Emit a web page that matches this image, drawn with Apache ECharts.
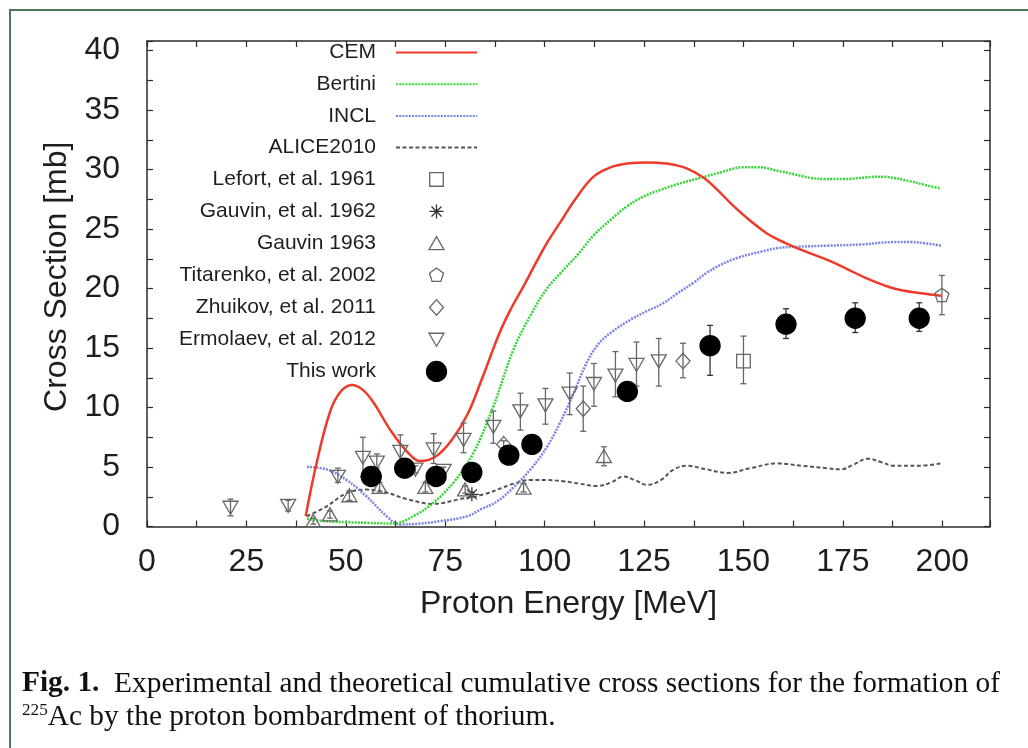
<!DOCTYPE html>
<html>
<head>
<meta charset="utf-8">
<script src="https://cdn.jsdelivr.net/npm/echarts@6/dist/echarts.min.js"></script>
<style>
html,body{margin:0;padding:0;background:#fff;}
#c{width:1028px;height:748px;}
</style>
</head>
<body>
<div id="c"></div>
<script>
// ---------------- DATA ----------------
const xTickLabels = [0, 25, 50, 75, 100, 125, 150, 175, 200];
const yTickLabels = [0, 5, 10, 15, 20, 25, 30, 35, 40];

const xTitle = 'Proton Energy [MeV]';
const yTitle = 'Cross Section [mb]';

const captionLabel = 'Fig. 1.';
const captionLine1 = 'Experimental and theoretical cumulative cross sections for the formation of';
const captionSup = '225';
const captionLine2 = 'Ac by the proton bombardment of thorium.';

// Theoretical curves
const cemE = [39.9, 42.7, 46.0, 48.6, 51.5, 54.2, 57.0, 61.2, 65.4, 68.7, 72.7, 76.7, 80.7, 84.0, 88.7, 91.7, 94.7, 98.2, 100.7, 104.0, 107.7, 112.3, 116.7, 120.7, 125.7, 130.7, 135.7, 140.0, 143.7, 147.6, 151.7, 156.0, 160.7, 165.7, 171.1, 175.7, 180.7, 187.9, 194.7, 199.7];
const cemV = [0.86, 5.4, 9.6, 11.3, 11.9, 11.5, 10.4, 8.1, 6.3, 5.5, 5.9, 7.3, 9.5, 12.2, 16.3, 18.4, 20.2, 22.4, 23.9, 25.6, 27.5, 29.4, 30.2, 30.5, 30.6, 30.5, 30.1, 29.3, 28.2, 26.9, 25.7, 24.6, 23.8, 23.1, 22.4, 21.7, 20.9, 20.0, 19.6, 19.4];

const bertiniE = [40.2, 44.7, 50.2, 55.7, 61.9, 67.0, 72.0, 77.1, 82.1, 87.1, 92.2, 96.7, 100.6, 104.0, 108.2, 112.4, 116.7, 120.7, 124.7, 129.2, 133.7, 139.2, 144.7, 150.1, 153.7, 158.5, 162.7, 166.9, 170.7, 175.3, 179.7, 183.7, 187.7, 192.1, 195.7, 199.7];
const bertiniV = [0.65, 0.45, 0.36, 0.3, 0.25, 0.87, 2.0, 3.7, 6.2, 10.1, 14.9, 17.9, 20.0, 21.3, 22.8, 24.5, 25.8, 26.9, 27.7, 28.3, 28.8, 29.3, 29.8, 30.2, 30.2, 29.9, 29.6, 29.3, 29.2, 29.2, 29.3, 29.4, 29.3, 29.0, 28.7, 28.4];

const inclE = [40.2, 45.2, 50.2, 55.3, 60.3, 63.7, 68.7, 73.7, 80.5, 84.0, 88.0, 92.2, 96.7, 100.6, 103.7, 107.3, 110.2, 113.2, 116.7, 121.7, 125.7, 130.0, 133.4, 137.5, 140.7, 144.3, 148.7, 154.4, 158.7, 162.7, 171.1, 179.5, 187.9, 192.1, 195.7, 199.7];
const inclV = [5.0, 4.8, 3.9, 2.5, 0.86, 0.17, 0.25, 0.45, 0.86, 1.45, 2.1, 3.3, 4.9, 6.7, 8.6, 11.2, 13.5, 15.2, 16.3, 17.4, 18.1, 18.8, 19.6, 20.5, 21.3, 22.0, 22.6, 23.1, 23.4, 23.5, 23.6, 23.7, 23.9, 23.9, 23.8, 23.6];

const aliceE = [40.2, 45.2, 50.2, 55.3, 59.7, 65.4, 72.0, 78.7, 84.7, 92.2, 96.4, 100.7, 104.7, 108.7, 113.2, 116.7, 119.9, 122.7, 125.8, 129.2, 132.5, 135.9, 140.7, 146.0, 151.7, 158.6, 164.7, 171.1, 174.5, 177.7, 181.2, 184.7, 187.9, 193.7, 199.7];
const aliceV = [0.86, 1.7, 2.8, 3.1, 2.9, 2.3, 1.9, 2.3, 2.7, 3.6, 3.9, 3.9, 3.8, 3.6, 3.4, 3.7, 4.2, 3.9, 3.5, 3.9, 4.8, 5.1, 4.8, 4.5, 4.9, 5.3, 5.1, 4.9, 4.8, 5.2, 5.7, 5.4, 5.1, 5.1, 5.3];

// Experimental data: energy, value, lower, upper
const lefortE = [150.0];
const lefortV = [13.9];
const lefortLo = [12.0];
const lefortHi = [16.0];

const gauvin62E = [81.7];
const gauvin62V = [2.7];
const gauvin62Lo = [2.5];
const gauvin62Hi = [2.9];

const gauvin63E = [41.8, 46.0, 50.9, 58.5, 70.0, 80.0, 94.7, 114.9];
const gauvin63V = [0.45, 1.0, 2.6, 3.3, 3.3, 3.1, 3.25, 5.9];
const gauvin63Lo = [0.2, 0.7, 2.2, 2.9, 2.9, 2.8, 2.9, 5.1];
const gauvin63Hi = [0.7, 1.3, 3.0, 3.7, 3.7, 3.4, 3.6, 6.7];

const titarenkoE = [199.9];
const titarenkoV = [19.4];
const titarenkoLo = [17.8];
const titarenkoHi = [21.1];

const zhuikovE = [89.7, 109.7, 134.8];
const zhuikovV = [6.9, 9.9, 13.9];
const zhuikovLo = [6.6, 8.0, 12.5];
const zhuikovHi = [7.2, 11.8, 15.4];

const ermolaevE = [21.0, 35.5, 48.0, 54.3, 57.8, 63.7, 67.5, 72.1, 74.6, 79.6, 87.1, 93.9, 100.2, 106.3, 112.4, 117.8, 123.1, 128.7];
const ermolaevV = [1.6, 1.76, 4.2, 5.8, 5.4, 6.3, 4.8, 6.5, 4.7, 7.3, 8.4, 9.7, 10.2, 11.2, 12.0, 12.7, 13.6, 13.9];
const ermolaevLo = [0.9, 1.3, 3.7, 4.2, 4.9, 5.3, 4.5, 5.3, 4.4, 6.2, 7.0, 8.1, 8.6, 9.4, 10.1, 10.9, 11.8, 11.8];
const ermolaevHi = [2.3, 2.2, 4.9, 7.5, 6.1, 7.7, 5.1, 7.8, 5.0, 8.7, 9.7, 11.2, 11.6, 12.9, 13.7, 14.7, 15.5, 15.8];

const thisWorkE = [56.4, 64.8, 72.7, 81.7, 91.0, 96.8, 120.8, 141.6, 160.7, 178.1, 194.2];
const thisWorkV = [4.2, 4.9, 4.2, 4.55, 6.0, 6.9, 11.35, 15.2, 17.0, 17.5, 17.5];
const thisWorkLo = [3.9, 4.6, 3.9, 4.25, 5.7, 6.6, 11.0, 12.7, 15.8, 16.3, 16.4];
const thisWorkHi = [4.5, 5.2, 4.5, 4.85, 6.3, 7.2, 11.7, 16.9, 18.3, 18.8, 18.8];

// ---------------- CHART ----------------
const FONT = '"Liberation Sans", Arial, Helvetica, sans-serif';
const SERIF = '"Liberation Serif", "Times New Roman", serif';
const AXIS_COLOR = '#2b2b2b';
const TEXT_COLOR = '#1e1e1e';
const MARK_COLOR = '#676767';

// symbols drawn inside a 20x20 box (the leading moves fix the box)
const BOX = 'M0,0M20,20';
const SYM_SQUARE = 'path://' + BOX + 'M3.2,3.2L16.8,3.2L16.8,16.8L3.2,16.8Z';
const SYM_UP = 'path://' + BOX + 'M2.5,16.2L17.5,16.2L10,3.2Z';
const SYM_DOWN = 'path://' + BOX + 'M2.5,3.8L17.5,3.8L10,16.8Z';
const SYM_DIAMOND = 'path://' + BOX + 'M10,2.2L17,10L10,17.8L3,10Z';
const SYM_PENT = 'path://' + BOX + 'M10,2.6L17.04,7.71L14.35,15.99L5.65,15.99L2.96,7.71Z';
const SYM_STAR = 'path://' + BOX + 'M10,3L10,17M3,10L17,10M5,5L15,15M15,5L5,15';

function pairs(xs, ys) { return xs.map((x, i) => [x, ys[i]]); }
function triples(xs, lo, hi) { return xs.map((x, i) => [x, lo[i], hi[i]]); }

function lineSeries(name, xs, ys, color, type, width) {
  return {
    name: name, type: 'line', data: pairs(xs, ys), symbol: 'none',
    smooth: 0.4, silent: true, z: 2,
    lineStyle: { color: color, width: width, type: type },
    itemStyle: { color: color }
  };
}

function pointSeries(name, xs, ys, symbol, fill, stroke) {
  return {
    name: name, type: 'scatter', data: pairs(xs, ys), symbol: symbol,
    symbolSize: 20, symbolKeepAspect: true, silent: true, z: 4,
    itemStyle: { color: fill, borderColor: stroke, borderWidth: 1.3, opacity: 1 }
  };
}

function errSeries(xs, lo, hi, color) {
  return {
    type: 'custom', data: triples(xs, lo, hi), silent: true, z: 3,
    encode: { x: 0, y: [1, 2] },
    renderItem: function (params, api) {
      const x = api.value(0);
      const top = api.coord([x, api.value(2)]);
      const bot = api.coord([x, api.value(1)]);
      const cap = 3;
      const st = { stroke: color, lineWidth: 1.3 };
      return {
        type: 'group',
        children: [
          { type: 'line', shape: { x1: top[0], y1: top[1], x2: bot[0], y2: bot[1] }, style: st },
          { type: 'line', shape: { x1: top[0] - cap, y1: top[1], x2: top[0] + cap, y2: top[1] }, style: st },
          { type: 'line', shape: { x1: bot[0] - cap, y1: bot[1], x2: bot[0] + cap, y2: bot[1] }, style: st }
        ]
      };
    }
  };
}

function measure(text, font) {
  const ctx = document.createElement('canvas').getContext('2d');
  ctx.font = font;
  return ctx.measureText(text).width;
}
const CAP_SIZE = 29;
const capWidth = measure(captionLabel, 'bold ' + CAP_SIZE + 'px "Liberation Serif"') +
                 measure('  ' + captionLine1, CAP_SIZE + 'px "Liberation Serif"');
const capScale = 978 / capWidth;

const axisLineCfg = { show: true, onZero: false, lineStyle: { color: AXIS_COLOR, width: 1.5 } };
const axisTickCfg = { show: true, inside: true, length: 6, lineStyle: { color: AXIS_COLOR, width: 1.2 } };

const xBase = { type: 'value', min: 0, max: 212, interval: 12.5, splitLine: { show: false }, axisLine: axisLineCfg, axisTick: axisTickCfg };
const yBase = { type: 'value', min: 0, max: 40.8, interval: 2.5, splitLine: { show: false }, axisLine: axisLineCfg, axisTick: axisTickCfg };

const transparent = 'rgba(0,0,0,0)';

const option = {
  animation: false,
  backgroundColor: '#ffffff',
  grid: { left: 147, right: 38, top: 41, bottom: 221.5, containLabel: false, outerBoundsMode: 'none' },
  xAxis: [
    Object.assign({}, xBase, {
      position: 'bottom',
      axisLabel: { formatter: v => xTickLabels.includes(v) ? String(v) : '', fontSize: 32, fontFamily: FONT, color: TEXT_COLOR, margin: 20 },
      name: xTitle, nameLocation: 'middle', nameGap: 62,
      nameTextStyle: { fontSize: 32, fontFamily: FONT, color: TEXT_COLOR }
    }),
    Object.assign({}, xBase, { position: 'top', axisLabel: { show: false } })
  ],
  yAxis: [
    Object.assign({}, yBase, {
      position: 'left',
      axisLabel: { formatter: v => yTickLabels.includes(v) ? String(v) : '', fontSize: 32, fontFamily: FONT, color: TEXT_COLOR, margin: 27 },
      name: yTitle, nameLocation: 'middle', nameGap: 74,
      nameTextStyle: { fontSize: 32, fontFamily: FONT, color: TEXT_COLOR, padding: [0, 0, 0, 14] }
    }),
    Object.assign({}, yBase, { position: 'right', axisLabel: { show: false } })
  ],
  legend: {
    orient: 'vertical', align: 'right', right: 550, top: 42,
    itemWidth: 81, itemHeight: 20, itemGap: 10.7, padding: 0,
    selectedMode: false, symbolKeepAspect: true,
    textStyle: { fontSize: 21, fontFamily: FONT, color: TEXT_COLOR, padding: [0, 15, 0, 0] },
    itemStyle: { borderWidth: 1.3 },
    data: [
      { name: 'CEM', itemStyle: { opacity: 0 } },
      { name: 'Bertini', itemStyle: { opacity: 0 } },
      { name: 'INCL', itemStyle: { opacity: 0 } },
      { name: 'ALICE2010', itemStyle: { opacity: 0 } },
      { name: 'Lefort, et al. 1961' },
      { name: 'Gauvin, et al. 1962' },
      { name: 'Gauvin 1963' },
      { name: 'Titarenko, et al. 2002' },
      { name: 'Zhuikov, et al. 2011' },
      { name: 'Ermolaev, et al. 2012' },
      { name: 'This work' }
    ]
  },
  series: [
    lineSeries('ALICE2010', aliceE, aliceV, '#555555', [4, 2.5], 2),
    lineSeries('INCL', inclE, inclV, '#7b84e6', [2, 1.2], 2.5),
    lineSeries('Bertini', bertiniE, bertiniV, '#33d633', [2, 1.2], 2.5),
    lineSeries('CEM', cemE, cemV, '#ee3a2b', 'solid', 2.5),
    errSeries(lefortE, lefortLo, lefortHi, MARK_COLOR),
    errSeries(gauvin62E, gauvin62Lo, gauvin62Hi, MARK_COLOR),
    errSeries(gauvin63E, gauvin63Lo, gauvin63Hi, MARK_COLOR),
    errSeries(titarenkoE, titarenkoLo, titarenkoHi, MARK_COLOR),
    errSeries(zhuikovE, zhuikovLo, zhuikovHi, MARK_COLOR),
    errSeries(ermolaevE, ermolaevLo, ermolaevHi, MARK_COLOR),
    errSeries(thisWorkE, thisWorkLo, thisWorkHi, '#333333'),
    pointSeries('Lefort, et al. 1961', lefortE, lefortV, SYM_SQUARE, transparent, MARK_COLOR),
    pointSeries('Gauvin, et al. 1962', gauvin62E, gauvin62V, SYM_STAR, transparent, '#333333'),
    pointSeries('Gauvin 1963', gauvin63E, gauvin63V, SYM_UP, transparent, MARK_COLOR),
    pointSeries('Titarenko, et al. 2002', titarenkoE, titarenkoV, SYM_PENT, transparent, MARK_COLOR),
    pointSeries('Zhuikov, et al. 2011', zhuikovE, zhuikovV, SYM_DIAMOND, transparent, MARK_COLOR),
    pointSeries('Ermolaev, et al. 2012', ermolaevE, ermolaevV, SYM_DOWN, transparent, MARK_COLOR),
    pointSeries('This work', thisWorkE, thisWorkV, 'circle', '#000000', '#000000')
  ],
  graphic: [
    { type: 'rect', silent: true, z: 100, shape: { x: 10, y: 10, width: 1040, height: 760 },
      style: { fill: 'none', stroke: '#4a7c5b', lineWidth: 2 } },
    { type: 'text', silent: true, x: 22, y: 684, scaleX: capScale,
      style: { text: '{b|' + captionLabel + '}  ' + captionLine1, fontSize: CAP_SIZE, fontFamily: SERIF, fill: '#111',
               align: 'left', verticalAlign: 'middle',
               rich: { b: { fontSize: CAP_SIZE, fontFamily: SERIF, fontWeight: 'bold', fill: '#111' } } } },
    { type: 'text', silent: true, x: 22, y: 717, scaleX: capScale,
      style: { text: '{s|' + captionSup + '}' + captionLine2, fontSize: CAP_SIZE, fontFamily: SERIF, fill: '#111',
               align: 'left', verticalAlign: 'middle',
               rich: { s: { fontSize: 17, fontFamily: SERIF, fill: '#111', verticalAlign: 'top' } } } }
  ]
};

const chart = echarts.init(document.getElementById('c'));
chart.setOption(option);
</script>
</body>
</html>
